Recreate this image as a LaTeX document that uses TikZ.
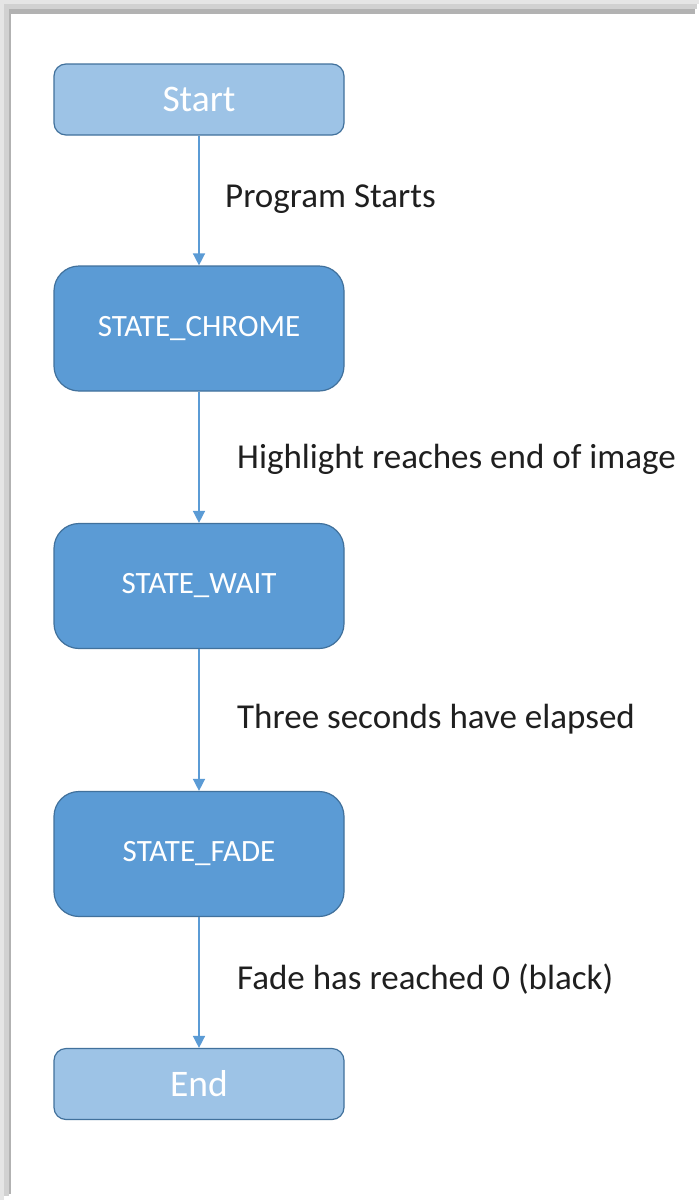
\documentclass[tikz,border=0pt]{standalone}
\usepackage{fontspec}
\setmainfont{Carlito}
\usetikzlibrary{arrows.meta}
\definecolor{stateblue}{HTML}{5B9BD5}
\definecolor{termblue}{HTML}{9DC3E6}
\definecolor{edgeblue}{HTML}{41719C}

\begin{document}
\begin{tikzpicture}[x=1pt,y=-1pt]
\tikzset{
  term/.style={draw=edgeblue, line width=1.2pt, fill=termblue, rounded corners=12pt,
    minimum width=290pt, minimum height=71pt, text=white, font=\fontsize{37.5}{44}\selectfont},
  state/.style={draw=edgeblue, line width=1.2pt, fill=stateblue, rounded corners=25pt,
    minimum width=290pt, minimum height=125pt, text=white, font=\fontsize{31}{37}\selectfont},
  trans/.style={anchor=base west, inner sep=0pt, text=black!88, font=\fontsize{35}{41}\selectfont},
  flow/.style={draw=stateblue, line width=1.5pt, -{Triangle[length=12pt,width=12pt]}}
}

% page and shadow frame
\useasboundingbox (0,0) rectangle (699,1200);
\fill[white] (0,0) rectangle (699,1200);
\fill[black!10] (0,0) rectangle (699,4);
\fill[black!10] (0,0) rectangle (4,1200);
\fill[black!18] (4,4) rectangle (697,9);
\fill[black!18] (4,4) rectangle (9,1196);
\fill[black!30] (9,9) rectangle (695,14);
\fill[black!30] (9,9) rectangle (11,1194);

\node[term]  (start)  at (199,99.5) {Start};
\node[state] (chrome) at (199,328.5) {STATE\_CHROME};
\node[state] (wait)   at (199,586) {STATE\_WAIT};
\node[state] (fade)   at (199,854) {STATE\_FADE};
\node[term]  (stop)   at (199,1084) {End};

\draw[flow] (start) -- (chrome);
\draw[flow] (chrome) -- (wait);
\draw[flow] (wait) -- (fade);
\draw[flow] (fade) -- (stop);

\node[trans] (l1) at (225,207) {Program Starts};
\node[trans] (l2) at (237,468) {Highlight reaches end of image};
\node[trans] (l3) at (237,728) {Three seconds have elapsed};
\node[trans] (l4) at (237,989) {Fade has reached 0 (black)};
\end{tikzpicture}
\end{document}
